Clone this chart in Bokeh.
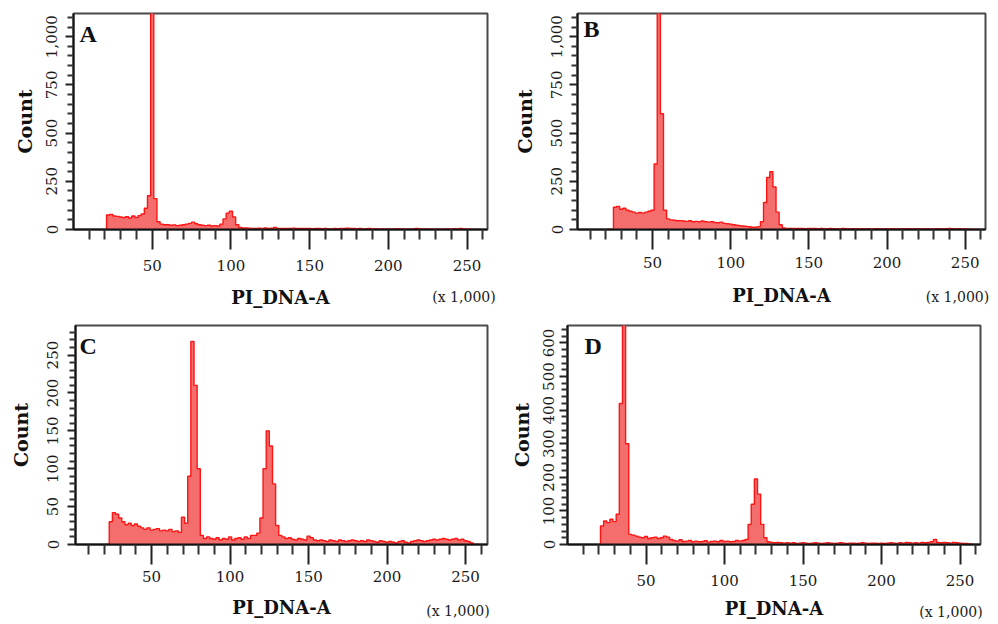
from bokeh.plotting import figure
from bokeh.models import Range1d, FixedTicker, Label, NumeralTickFormatter, LinearAxis
from bokeh.layouts import column, row
from bokeh.embed import file_html
from bokeh.resources import INLINE

# ---------------- data (histogram counts, bins of 2 x1000 centred at 22, 24, ..., 258) ----
BIN_FIRST_CENTER = 22
BIN_WIDTH = 2

counts_a = [
    75, 78, 70, 68, 65, 62, 66, 60, 70, 62,
    72, 80, 110, 175, 1200, 160, 40, 28, 25, 25,
    22, 24, 20, 22, 25, 28, 32, 38, 30, 25,
    22, 20, 22, 18, 20, 18, 28, 55, 85, 95,
    65, 25, 10, 8, 8, 7, 6, 5, 7, 6,
    8, 6, 7, 10, 6, 5, 6, 5, 6, 7,
    5, 6, 5, 6, 5, 4, 5, 6, 4, 5,
    4, 3, 5, 4, 6, 5, 7, 5, 6, 4,
    5, 3, 4, 5, 3, 4, 2, 3, 2, 3,
    2, 3, 4, 2, 3, 2, 2, 3, 5, 4,
    2, 3, 2, 2, 1, 2, 1, 2, 3, 2,
    4, 3, 5, 3, 2, 1, 0, 0, 0,
]

counts_b = [
    0, 0, 115, 120, 105, 110, 100, 95, 90, 85,
    88, 85, 90, 95, 100, 340, 1200, 600, 100, 55,
    50, 48, 45, 46, 44, 42, 45, 40, 42, 40,
    44, 40, 38, 40, 36, 35, 38, 32, 30, 28,
    25, 22, 20, 18, 16, 14, 12, 12, 15, 40,
    140, 270, 300, 220, 90, 25, 8, 6, 5, 6,
    5, 6, 5, 4, 5, 6, 5, 4, 5, 4,
    4, 5, 4, 3, 4, 5, 4, 3, 4, 4,
    3, 4, 3, 4, 3, 3, 4, 3, 3, 4,
    3, 4, 3, 3, 4, 3, 4, 3, 3, 4,
    3, 3, 4, 3, 3, 4, 3, 3, 4, 6,
    4, 3, 4, 3, 3, 2, 1, 0, 0,
]

counts_c = [
    0, 30, 42, 40, 35, 30, 26, 28, 25, 27,
    24, 22, 20, 22, 19, 20, 21, 18, 19, 18,
    20, 17, 18, 16, 36, 28, 90, 268, 210, 100,
    12, 8, 10, 8, 7, 9, 6, 8, 7, 10,
    6, 8, 9, 7, 10, 8, 12, 12, 15, 35,
    100, 150, 130, 80, 25, 12, 10, 8, 9, 7,
    6, 8, 7, 6, 11, 9, 6, 5, 6, 5,
    4, 6, 5, 4, 6, 5, 4, 5, 6, 5,
    4, 5, 4, 6, 5, 4, 3, 5, 4, 3,
    4, 3, 2, 4, 5, 3, 2, 4, 5, 6,
    5, 4, 5, 6, 7, 6, 7, 8, 7, 6,
    7, 8, 6, 7, 5, 4, 2, 0, 0,
]

counts_d = [
    55, 70, 65, 75, 68, 90, 420, 700, 300, 30,
    28, 25, 22, 20, 24, 18, 20, 22, 18, 20,
    25, 22, 15, 12, 10, 14, 9, 10, 12, 8,
    10, 8, 9, 11, 7, 9, 10, 8, 12, 9,
    10, 8, 9, 12, 10, 12, 15, 60, 120, 195,
    150, 60, 20, 8, 6, 5, 6, 5, 4, 5,
    4, 5, 3, 4, 5, 4, 3, 4, 5, 4,
    3, 4, 5, 4, 3, 4, 5, 4, 3, 4,
    4, 3, 4, 5, 4, 3, 4, 4, 3, 4,
    3, 4, 5, 4, 3, 5, 4, 6, 5, 4,
    5, 4, 6, 5, 6, 8, 15, 6, 5, 6,
    5, 4, 6, 5, 4, 3, 3, 2, 0,
]

x_major_ticks = [50, 100, 150, 200, 250]
x_minor_ticks = [10, 20, 30, 40, 60, 70, 80, 90, 110, 120, 130, 140, 160, 170, 180,
                 190, 210, 220, 230, 240, 260]

y_major_ab = [0, 250, 500, 750, 1000]
y_minor_ab = [50, 100, 150, 200, 300, 350, 400, 450, 550, 600, 650, 700, 800, 850,
              900, 950, 1050, 1100]
y_major_c = [0, 50, 100, 150, 200, 250]
y_minor_c = [v for v in range(10, 290, 10) if v % 50 != 0]
y_major_d = [0, 100, 200, 300, 400, 500, 600]
y_minor_d = [v for v in range(20, 660, 20) if v % 100 != 0]

X_TITLE = "PI_DNA-A"
Y_TITLE = "Count"
UNIT_TEXT = "(x 1,000)"

TICK_FONT = "DejaVu Serif"
LABEL_FONT = "DejaVu Serif"
LETTER_FONT = "Liberation Serif"
FILL = "#F36262"
LINE = "#FF1414"


def make_panel(letter, counts, xr, yr, y_major, y_minor, size, borders,
               ytl_st, ylab_st, xtl_st, xlab_st, letter_off, unit_off):
    w, h = size
    bl, br, bt, bb = borders
    p = figure(width=w, height=h, x_range=Range1d(*xr), y_range=Range1d(*yr),
               output_backend="svg", toolbar_location=None,
               min_border_left=bl, min_border_right=br,
               min_border_top=bt, min_border_bottom=bb)
    p.xgrid.visible = False
    p.ygrid.visible = False
    p.outline_line_color = "#4a4a4a"
    p.outline_line_width = 2
    p.background_fill_color = "white"
    p.border_fill_color = "white"

    # histogram outline built from the bins
    xs, ys = [], []
    for i, c in enumerate(counts):
        center = BIN_FIRST_CENTER + i * BIN_WIDTH
        l, r = center - BIN_WIDTH / 2, center + BIN_WIDTH / 2
        if i == 0:
            xs.append(l)
            ys.append(0)
        xs += [l, r]
        ys += [c, c]
    xs.append(xs[-1])
    ys.append(0)
    p.varea(x=xs, y1=[0] * len(xs), y2=ys, fill_color=FILL, fill_alpha=0.92)
    p.line(xs, ys, line_color=LINE, line_width=1.4)

    # x axis
    xa = p.xaxis[0]
    xa.ticker = FixedTicker(ticks=x_major_ticks, minor_ticks=x_minor_ticks)
    xa.axis_line_width = 2
    xa.axis_line_color = "#111111"
    xa.major_tick_in = 0
    xa.major_tick_out = 20
    xa.minor_tick_in = 0
    xa.minor_tick_out = 10
    xa.major_tick_line_width = 2
    xa.minor_tick_line_width = 2
    xa.major_tick_line_color = "#222222"
    xa.minor_tick_line_color = "#333333"
    xa.major_label_text_font = TICK_FONT
    xa.major_label_text_font_size = "15px"
    xa.major_label_text_color = "#1a1a1a"
    xa.major_label_standoff = xtl_st
    xa.axis_label = X_TITLE
    xa.axis_label_text_font = LABEL_FONT
    xa.axis_label_text_font_style = "bold"
    xa.axis_label_text_font_size = "18px"
    xa.axis_label_text_color = "#111111"
    xa.axis_label_standoff = xlab_st

    # unit note "(x 1,000)" as the single tick label of an extra bottom axis
    frame_w = w - bl - br
    px_per_unit = frame_w / (xr[1] - xr[0])
    ux = xr[1] - unit_off[0] / px_per_unit
    band = 20 + xtl_st + 17.5 + xlab_st + 21
    ua = LinearAxis(ticker=FixedTicker(ticks=[ux], minor_ticks=[]),
                    major_label_overrides={ux: UNIT_TEXT},
                    axis_line_color=None, major_tick_line_color=None,
                    minor_tick_line_color=None, major_tick_in=0, major_tick_out=0,
                    minor_tick_in=0, minor_tick_out=0,
                    major_label_standoff=int(round(unit_off[1] - 8 - band)),
                    major_label_text_font=TICK_FONT, major_label_text_font_size="14px",
                    major_label_text_color="#1a1a1a")
    p.add_layout(ua, "below")

    # y axis
    ya = p.yaxis[0]
    ya.ticker = FixedTicker(ticks=y_major, minor_ticks=y_minor)
    ya.formatter = NumeralTickFormatter(format="0,0")
    ya.axis_line_width = 2
    ya.axis_line_color = "#111111"
    ya.major_tick_in = 0
    ya.major_tick_out = 8
    ya.minor_tick_in = 0
    ya.minor_tick_out = 6
    ya.major_tick_line_width = 2
    ya.minor_tick_line_width = 2
    ya.major_tick_line_color = "#222222"
    ya.minor_tick_line_color = "#333333"
    ya.major_label_orientation = "vertical"
    ya.major_label_text_font = TICK_FONT
    ya.major_label_text_font_size = "15px"
    ya.major_label_text_color = "#1a1a1a"
    ya.major_label_standoff = ytl_st
    ya.axis_label = Y_TITLE
    ya.axis_label_text_font = LABEL_FONT
    ya.axis_label_text_font_style = "bold"
    ya.axis_label_text_font_size = "19px"
    ya.axis_label_text_color = "#111111"
    ya.axis_label_standoff = ylab_st

    p.add_layout(Label(x=xr[0], y=yr[1], x_offset=letter_off[0], y_offset=-letter_off[1],
                       text=letter, text_font=LETTER_FONT, text_font_style="bold",
                       text_font_size="24px", text_color="#111111",
                       text_baseline="top", text_align="left"))
    return p


pa = make_panel("A", counts_a, (0, 263), (0, 1120), y_major_ab, y_minor_ab,
                (498, 310), (73, 11, 13, 80), 8, 8, 10, 13, (6, 7), (23.5, 68))
pb = make_panel("B", counts_b, (2, 263), (0, 1120), y_major_ab, y_minor_ab,
                (498, 310), (79, 11, 12, 81), 7, 13, 7, 14, (6, 2), (28, 68))
pc = make_panel("C", counts_c, (1.5, 264), (0, 289), y_major_c, y_minor_c,
                (498, 312), (75, 11, 15, 76), 9, 13, 6, 12, (4, 7), (29.5, 66))
pd = make_panel("D", counts_d, (0, 263), (0, 652), y_major_d, y_minor_d,
                (498, 312), (69, 16, 14, 74), 5, 8, 10, 9, (17, 7), (29.5, 67))

layout = column(row(pa, pb), row(pc, pd))
open("out.html", "w").write(file_html(layout, INLINE))
